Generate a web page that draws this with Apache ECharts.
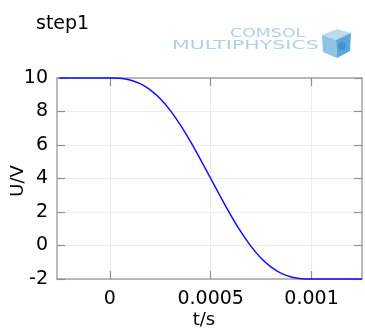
<!DOCTYPE html>
<html>
<head>
<meta charset="utf-8">
<script src="https://cdn.jsdelivr.net/npm/echarts@6/dist/echarts.min.js"></script>
<style>
  html, body { margin: 0; padding: 0; background: #fff; }
  #chart { width: 365px; height: 329px; }
</style>
</head>
<body>
<div id="chart"></div>
<script>
// Smoothed step: time (s) and voltage (V)
const timeS = [-0.00025, 0, 0.00005, 0.0001, 0.00015, 0.0002, 0.00025, 0.0003, 0.00035, 0.0004, 0.00045,
  0.0005, 0.00055, 0.0006, 0.00065, 0.0007, 0.00075, 0.0008, 0.00085, 0.0009, 0.00095, 0.001, 0.00125];
const voltageV = [10, 10, 9.98, 9.88, 9.66, 9.29, 8.76, 8.05, 7.19, 6.2, 5.12,
  4.0, 2.88, 1.8, 0.81, -0.05, -0.76, -1.29, -1.66, -1.88, -1.98, -2, -2];

const xTicks = [0, 0.0005, 0.001];
const yTicks = [-2, 0, 2, 4, 6, 8, 10];

const titleText = 'step1';
const xName = 't/s';
const yName = 'U/V';

const FONT = 'DejaVu Sans';
const frameColor = '#a4a4a4';
const gridColor = '#ececec';

const chart = echarts.init(document.getElementById('chart'), null, { renderer: 'canvas' });

const xBase = {
  type: 'value',
  min: -0.000262,
  max: 0.00125,
  axisLine: { show: true, onZero: false, lineStyle: { color: frameColor, width: 1.5 } },
  axisTick: { show: true, inside: true, length: 8, customValues: xTicks, lineStyle: { color: '#909090', width: 1.2 } },
  axisLabel: { show: true, customValues: xTicks, formatter: v => String(v), fontFamily: FONT, fontSize: 19, color: '#000', margin: 11 },
  splitLine: { show: true, lineStyle: { color: gridColor, width: 1 } }
};
const yBase = {
  type: 'value',
  min: yTicks[0],
  max: yTicks[yTicks.length - 1],
  interval: 2,
  axisLine: { show: true, onZero: false, lineStyle: { color: frameColor, width: 1.5 } },
  axisTick: { show: true, inside: true, length: 8, lineStyle: { color: '#909090', width: 1.2 } },
  axisLabel: { show: true, fontFamily: FONT, fontSize: 19, color: '#000', margin: 9 },
  splitLine: { show: true, lineStyle: { color: gridColor, width: 1 } }
};

chart.setOption({
  animation: false,
  backgroundColor: '#fff',
  grid: { left: 57, right: 3, top: 78, bottom: 50, show: false },
  xAxis: [
    xBase,
    Object.assign({}, xBase, { position: 'top', axisLabel: { show: false }, splitLine: { show: false } })
  ],
  yAxis: [
    yBase,
    Object.assign({}, yBase, { position: 'right', axisLabel: { show: false }, splitLine: { show: false } })
  ],
  series: [{
    type: 'line',
    data: timeS.map((t, i) => [t, voltageV[i]]),
    showSymbol: false,
    smooth: 0.3,
    lineStyle: { color: '#1010ff', width: 1.5 },
    clip: false
  }],
  graphic: [
    { type: 'text', left: 36, top: 15, style: { text: titleText, font: '19px "DejaVu Sans"', fill: '#000' } },
    { type: 'text', x: 204, y: 320, style: { text: xName, font: '18px "DejaVu Sans"', fill: '#000', align: 'center', verticalAlign: 'middle' } },
    { type: 'text', x: 18.5, y: 181, rotation: Math.PI / 2, style: { text: yName, font: '18px "DejaVu Sans"', fill: '#000', align: 'center', verticalAlign: 'middle' } },
    // logo lettering
    { type: 'text', x: 230, y: 34, scaleX: 1.45, style: { text: 'COMSOL', font: '12px "DejaVu Sans"', fill: '#aed1e8', verticalAlign: 'middle' } },
    { type: 'text', x: 172, y: 45.5, scaleX: 1.71, style: { text: 'MULTIPHYSICS', font: '12px "DejaVu Sans"', fill: '#aed1e8', verticalAlign: 'middle' } },
    // logo cube
    { type: 'polygon', shape: { points: [[322, 35], [337, 29], [351, 33], [336, 40]] }, style: { fill: '#b9dcf0' } },
    { type: 'polygon', shape: { points: [[322, 35], [336, 40], [337, 58], [323, 52]] }, style: { fill: '#8cc3e6' } },
    { type: 'polygon', shape: { points: [[336, 40], [351, 33], [350, 51], [337, 58]] }, style: { fill: '#5aa6d8' } },
    { type: 'circle', shape: { cx: 342, cy: 46, r: 4 }, style: { fill: '#3b8ccc', opacity: 0.7 } }
  ]
});
</script>
</body>
</html>
